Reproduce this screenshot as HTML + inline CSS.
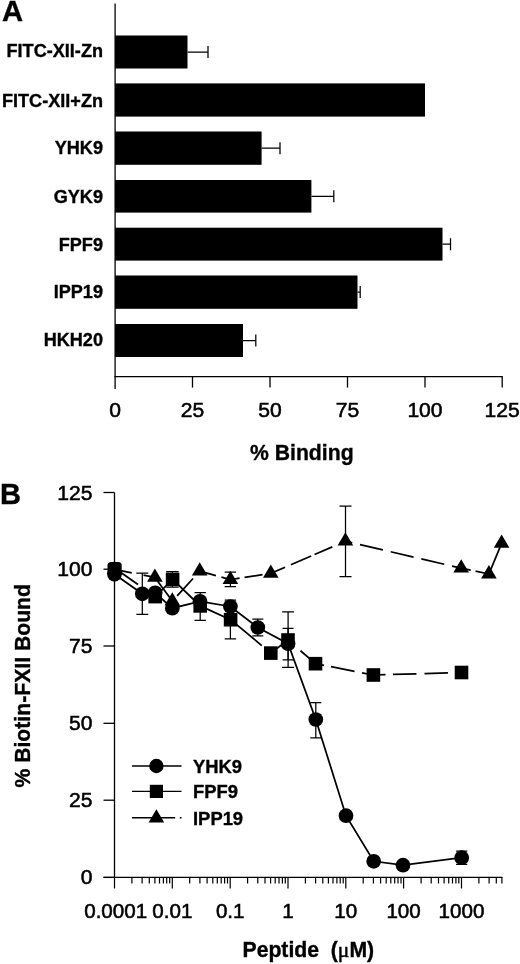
<!DOCTYPE html>
<html lang="en"><head><meta charset="utf-8"><title>Figure</title>
<style>html,body{margin:0;padding:0;background:#fff}svg{display:block}#g{filter:url(#bl)}text{font-family:"Liberation Sans",sans-serif;fill:#000;stroke:#000;stroke-width:0.55}.b{font-weight:bold;stroke:#000;stroke-width:0.35}.ax{stroke:#000;stroke-width:1.3;fill:none}.eb{stroke:#000;stroke-width:1.25;fill:none}.ln{stroke:#000;stroke-width:1.75;fill:none;stroke-linecap:butt}.mk{fill:#000;stroke:none}</style></head><body>
<svg width="520" height="964" viewBox="0 0 520 964">
<defs><filter id="bl" x="0" y="0" width="520" height="964" filterUnits="userSpaceOnUse"><feGaussianBlur stdDeviation="0.55"/></filter></defs>
<rect width="520" height="964" fill="#fff"/>
<g id="g">
<text class="b" x="2" y="21.3" font-size="29.2">A</text>
<path class="ax" d="M115.1 3.5V376.6"/>
<path class="ax" d="M114.3 376.6H502.7"/>
<path class="ax" d="M115.1 376.6V389.0"/>
<text x="115.1" y="417.2" font-size="21.1" text-anchor="middle">0</text>
<path class="ax" d="M192.5 376.6V387.6"/>
<text x="192.5" y="417.2" font-size="21.1" text-anchor="middle">25</text>
<path class="ax" d="M270.0 376.6V387.6"/>
<text x="270.0" y="417.2" font-size="21.1" text-anchor="middle">50</text>
<path class="ax" d="M347.5 376.6V387.6"/>
<text x="347.5" y="417.2" font-size="21.1" text-anchor="middle">75</text>
<path class="ax" d="M425.0 376.6V387.6"/>
<text x="425.0" y="417.2" font-size="21.1" text-anchor="middle">100</text>
<path class="ax" d="M502.2 376.6V387.6"/>
<text x="502.2" y="417.2" font-size="21.1" text-anchor="middle">125</text>
<rect class="mk" x="115.1" y="35.5" width="72.4" height="33.0"/>
<path class="eb" d="M187.5 52.0H208.0M208.0 46.0V58.0"/>
<text class="b" x="103" y="57.4" font-size="18.1" text-anchor="end">FITC-XII-Zn</text>
<rect class="mk" x="115.1" y="83.4" width="309.9" height="33.2"/>
<text class="b" x="103" y="106.8" font-size="18.1" text-anchor="end">FITC-XII+Zn</text>
<rect class="mk" x="115.1" y="131.5" width="146.5" height="33.3"/>
<path class="eb" d="M261.6 148.2H280.0M280.0 142.2V154.2"/>
<text class="b" x="103" y="154.2" font-size="18.1" text-anchor="end">YHK9</text>
<rect class="mk" x="115.1" y="180.0" width="196.3" height="32.6"/>
<path class="eb" d="M311.4 196.3H333.8M333.8 190.3V202.3"/>
<text class="b" x="103" y="202.7" font-size="18.1" text-anchor="end">GYK9</text>
<rect class="mk" x="115.1" y="227.7" width="327.4" height="32.9"/>
<path class="eb" d="M442.5 244.2H450.5M450.5 238.2V250.2"/>
<text class="b" x="103" y="251.2" font-size="18.1" text-anchor="end">FPF9</text>
<rect class="mk" x="115.1" y="275.5" width="242.4" height="33.3"/>
<path class="eb" d="M357.5 292.1H360.2M360.2 286.1V298.1"/>
<text class="b" x="103" y="298.2" font-size="18.1" text-anchor="end">IPP19</text>
<rect class="mk" x="115.1" y="324.0" width="127.9" height="33.0"/>
<path class="eb" d="M243.0 340.5H255.8M255.8 334.5V346.5"/>
<text class="b" x="103" y="346.4" font-size="18.1" text-anchor="end">HKH20</text>
<text class="b" x="250" y="460.3" font-size="21.2">% Binding</text>
<text class="b" x="0" y="504.2" font-size="29">B</text>
<path class="ax" d="M114.5 492.5V877.4"/>
<path class="ax" d="M103.5 877.4H502.5"/>
<path class="ax" d="M103.5 492.5H114.5"/>
<text x="92.5" y="499.5" font-size="21.1" text-anchor="end">125</text>
<path class="ax" d="M103.5 569.2H114.5"/>
<text x="92.5" y="576.2" font-size="21.1" text-anchor="end">100</text>
<path class="ax" d="M103.5 646.0H114.5"/>
<text x="92.5" y="653.0" font-size="21.1" text-anchor="end">75</text>
<path class="ax" d="M103.5 723.3H114.5"/>
<text x="92.5" y="730.3" font-size="21.1" text-anchor="end">50</text>
<path class="ax" d="M103.5 800.2H114.5"/>
<text x="92.5" y="807.2" font-size="21.1" text-anchor="end">25</text>
<path class="ax" d="M103.5 877.4H114.5"/>
<text x="92.5" y="884.4" font-size="21.1" text-anchor="end">0</text>
<path d="M114.5 877.4V888.4M131.9 877.4V883.6M142.1 877.4V883.6M149.3 877.4V883.6M154.9 877.4V883.6M159.5 877.4V883.6M163.4 877.4V883.6M166.7 877.4V883.6M169.7 877.4V883.6M172.3 877.4V888.4M189.7 877.4V883.6M199.9 877.4V883.6M207.1 877.4V883.6M212.8 877.4V883.6M217.3 877.4V883.6M221.2 877.4V883.6M224.6 877.4V883.6M227.5 877.4V883.6M230.2 877.4V888.4M247.6 877.4V883.6M257.8 877.4V883.6M265.0 877.4V883.6M270.6 877.4V883.6M275.2 877.4V883.6M279.0 877.4V883.6M282.4 877.4V883.6M285.3 877.4V883.6M288.0 877.4V888.4M305.4 877.4V883.6M315.6 877.4V883.6M322.8 877.4V883.6M328.4 877.4V883.6M333.0 877.4V883.6M336.9 877.4V883.6M340.2 877.4V883.6M343.2 877.4V883.6M345.8 877.4V888.4M363.2 877.4V883.6M373.4 877.4V883.6M380.6 877.4V883.6M386.2 877.4V883.6M390.8 877.4V883.6M394.7 877.4V883.6M398.0 877.4V883.6M401.0 877.4V883.6M403.6 877.4V888.4M421.1 877.4V883.6M431.2 877.4V883.6M438.5 877.4V883.6M444.1 877.4V883.6M448.7 877.4V883.6M452.5 877.4V883.6M455.9 877.4V883.6M458.8 877.4V883.6M461.5 877.4V888.4M478.9 877.4V883.6M489.1 877.4V883.6M496.3 877.4V883.6M501.9 877.4V883.6" stroke="#000" stroke-width="1.2" fill="none"/>
<text x="115.7" y="918.3" font-size="20.6" text-anchor="middle">0.0001</text>
<text x="172.3" y="918.3" font-size="20.6" text-anchor="middle">0.01</text>
<text x="230.2" y="918.3" font-size="20.6" text-anchor="middle">0.1</text>
<text x="288.0" y="918.3" font-size="20.6" text-anchor="middle">1</text>
<text x="345.8" y="918.3" font-size="20.6" text-anchor="middle">10</text>
<text x="403.6" y="918.3" font-size="20.6" text-anchor="middle">100</text>
<text x="461.5" y="918.3" font-size="20.6" text-anchor="middle">1000</text>
<text class="b" x="242.5" y="956.5" font-size="21.2" xml:space="preserve">Peptide  (<tspan font-family="'Liberation Serif',serif" font-weight="normal" stroke-width="0.5" font-size="21.5">μ</tspan>M)</text>
<text class="b" font-size="21.2" transform="translate(29.8 787.6) rotate(-90)">% Biotin-FXII Bound</text>
<path class="eb" d="M142.3 573.0V614.3M136.3 573.0H148.3M136.3 614.3H148.3"/>
<path class="eb" d="M172.4 571.5V587.2M166.2 571.5H178.6M166.2 587.2H178.6"/>
<path class="eb" d="M200.2 592.5V620.4M194.5 592.5H205.9M194.5 620.4H205.9"/>
<path class="eb" d="M230.4 572.2V586.6M224.7 572.2H236.1M224.7 586.6H236.1"/>
<path class="eb" d="M230.4 600.0V638.9M224.7 600.0H236.1M224.7 638.9H236.1"/>
<path class="eb" d="M257.8 619.2V635.9M252.3 619.2H263.3M252.3 635.9H263.3"/>
<path class="eb" d="M288.1 611.9V667.3M282.1 611.9H294.1M282.1 667.3H294.1"/>
<path class="eb" d="M288.1 628.4V659.8M282.6 628.4H293.6M282.6 659.8H293.6"/>
<path class="eb" d="M315.8 702.7V737.8M310.3 702.7H321.3M310.3 737.8H321.3"/>
<path class="eb" d="M345.5 506.2V576.5M339.5 506.2H351.5M339.5 576.5H351.5"/>
<path class="eb" d="M461.7 851.0V864.4M456.1 851.0H467.3M456.1 864.4H467.3"/>
<path class="ln" d="M114.5 574.3L142.3 593.8L155.2 592.8L172.3 608.2L200.0 601.3L230.4 606.5L257.8 627.5L288.1 643.7L315.8 719.5L346.0 815.7L373.7 861.3L403.0 865.2L461.7 857.7"/>
<path class="ln" d="M114.5 568.0L155.2 596.6" stroke-dasharray="28.7 9 30"/>
<path class="ln" d="M155.2 596.6L172.6 579.4"/>
<path class="ln" d="M172.6 579.4L200.2 605.9" stroke-dasharray="0 6.6 23.5 8 30"/>
<path class="ln" d="M200.2 605.9L230.6 619.7"/>
<path class="ln" d="M230.6 619.7L270.8 653.1" stroke-dasharray="40.5 8 30"/>
<path class="ln" d="M270.8 653.1L288.0 640.0"/>
<path class="ln" d="M288.0 640.0L315.5 663.7" stroke-dasharray="0 16.5 30"/>
<path class="ln" d="M315.5 663.7L373.4 675.0" stroke-dasharray="8.7 7.1 24 7.6 30"/>
<path class="ln" d="M373.4 675.0L461.5 672.5" stroke-dasharray="12.1 7.5 23.5 8 23.5 8 30"/>
<path class="ln" d="M114.5 569.4L154.9 577.4" stroke-dasharray="17.6 12 30"/>
<path class="ln" d="M154.9 577.4L172.3 601.1"/>
<path class="ln" d="M172.3 601.1L199.7 571.2" stroke-dasharray="0 7.2 23.5 8 30"/>
<path class="ln" d="M199.7 571.2L230.4 579.6" stroke-dasharray="16.8 5.7 30"/>
<path class="ln" d="M230.4 579.6L270.8 573.4" stroke-dasharray="9.3 5 18.2 8 30"/>
<path class="ln" d="M270.8 573.4L345.4 541.2" stroke-dasharray="15.6 6.2 22.2 3.7 19.3 8 30"/>
<path class="ln" d="M345.4 541.2L461.2 568.2" stroke-dasharray="7 8 23.5 8 23.5 8 23.5 8 30"/>
<path class="ln" d="M461.2 568.2L488.9 574.0" stroke-dasharray="9.7 5 30"/>
<path class="ln" d="M488.9 574.0L501.6 543.4"/>
<circle class="mk" cx="114.5" cy="574.3" r="7.35"/>
<circle class="mk" cx="142.3" cy="593.8" r="7.35"/>
<circle class="mk" cx="155.2" cy="592.8" r="7.35"/>
<circle class="mk" cx="172.3" cy="608.2" r="7.35"/>
<circle class="mk" cx="200.0" cy="601.3" r="7.35"/>
<circle class="mk" cx="230.4" cy="606.5" r="7.35"/>
<circle class="mk" cx="257.8" cy="627.5" r="7.35"/>
<circle class="mk" cx="288.1" cy="643.7" r="7.35"/>
<circle class="mk" cx="315.8" cy="719.5" r="7.35"/>
<circle class="mk" cx="346.0" cy="815.7" r="7.35"/>
<circle class="mk" cx="373.7" cy="861.3" r="7.35"/>
<circle class="mk" cx="403.0" cy="865.2" r="7.35"/>
<circle class="mk" cx="461.7" cy="857.7" r="7.35"/>
<rect class="mk" x="107.5" y="562" width="14.2" height="14" rx="3.5"/>
<rect class="mk" x="148.4" y="589.8" width="13.6" height="13.6"/>
<rect class="mk" x="165.8" y="572.6" width="13.6" height="13.6"/>
<rect class="mk" x="193.4" y="599.1" width="13.6" height="13.6"/>
<rect class="mk" x="223.8" y="612.9" width="13.6" height="13.6"/>
<rect class="mk" x="264.0" y="646.3" width="13.6" height="13.6"/>
<rect class="mk" x="281.2" y="633.2" width="13.6" height="13.6"/>
<rect class="mk" x="308.7" y="656.9" width="13.6" height="13.6"/>
<rect class="mk" x="366.6" y="668.2" width="13.6" height="13.6"/>
<rect class="mk" x="454.7" y="665.7" width="13.6" height="13.6"/>
<path class="mk" d="M114.5 560.5L122.3 573.8H106.7Z"/>
<path class="mk" d="M154.9 568.5L162.7 581.8H147.1Z"/>
<path class="mk" d="M172.3 592.2L180.1 605.5H164.5Z"/>
<path class="mk" d="M199.7 562.3L207.5 575.6H191.9Z"/>
<path class="mk" d="M230.4 570.7L238.2 584.0H222.6Z"/>
<path class="mk" d="M270.8 564.5L278.6 577.8H263.0Z"/>
<path class="mk" d="M345.4 532.3L353.2 545.6H337.6Z"/>
<path class="mk" d="M461.2 559.3L469.0 572.6H453.4Z"/>
<path class="mk" d="M488.9 565.1L496.7 578.4H481.1Z"/>
<path class="mk" d="M501.6 534.5L509.4 547.8H493.8Z"/>
<path class="ln" style="stroke-width:1.4" d="M132 766H181.5"/>
<circle class="mk" cx="156.4" cy="766" r="7.2"/>
<path class="ln" style="stroke-width:1.4" d="M132 791.4H181.5"/>
<rect class="mk" x="149.8" y="784.8" width="13.2" height="13.2"/>
<path class="ln" style="stroke-width:1.4" d="M132 817.8H175.2M179.8 817.8H181.5"/>
<path class="mk" d="M156.4 809.2L164.2 822.5H148.6Z"/>
<text class="b" x="193" y="772.7" font-size="18.4">YHK9</text>
<text class="b" x="193" y="798.2" font-size="18.4">FPF9</text>
<text class="b" x="193" y="825.2" font-size="18.4">IPP19</text>
</g></svg></body></html>
